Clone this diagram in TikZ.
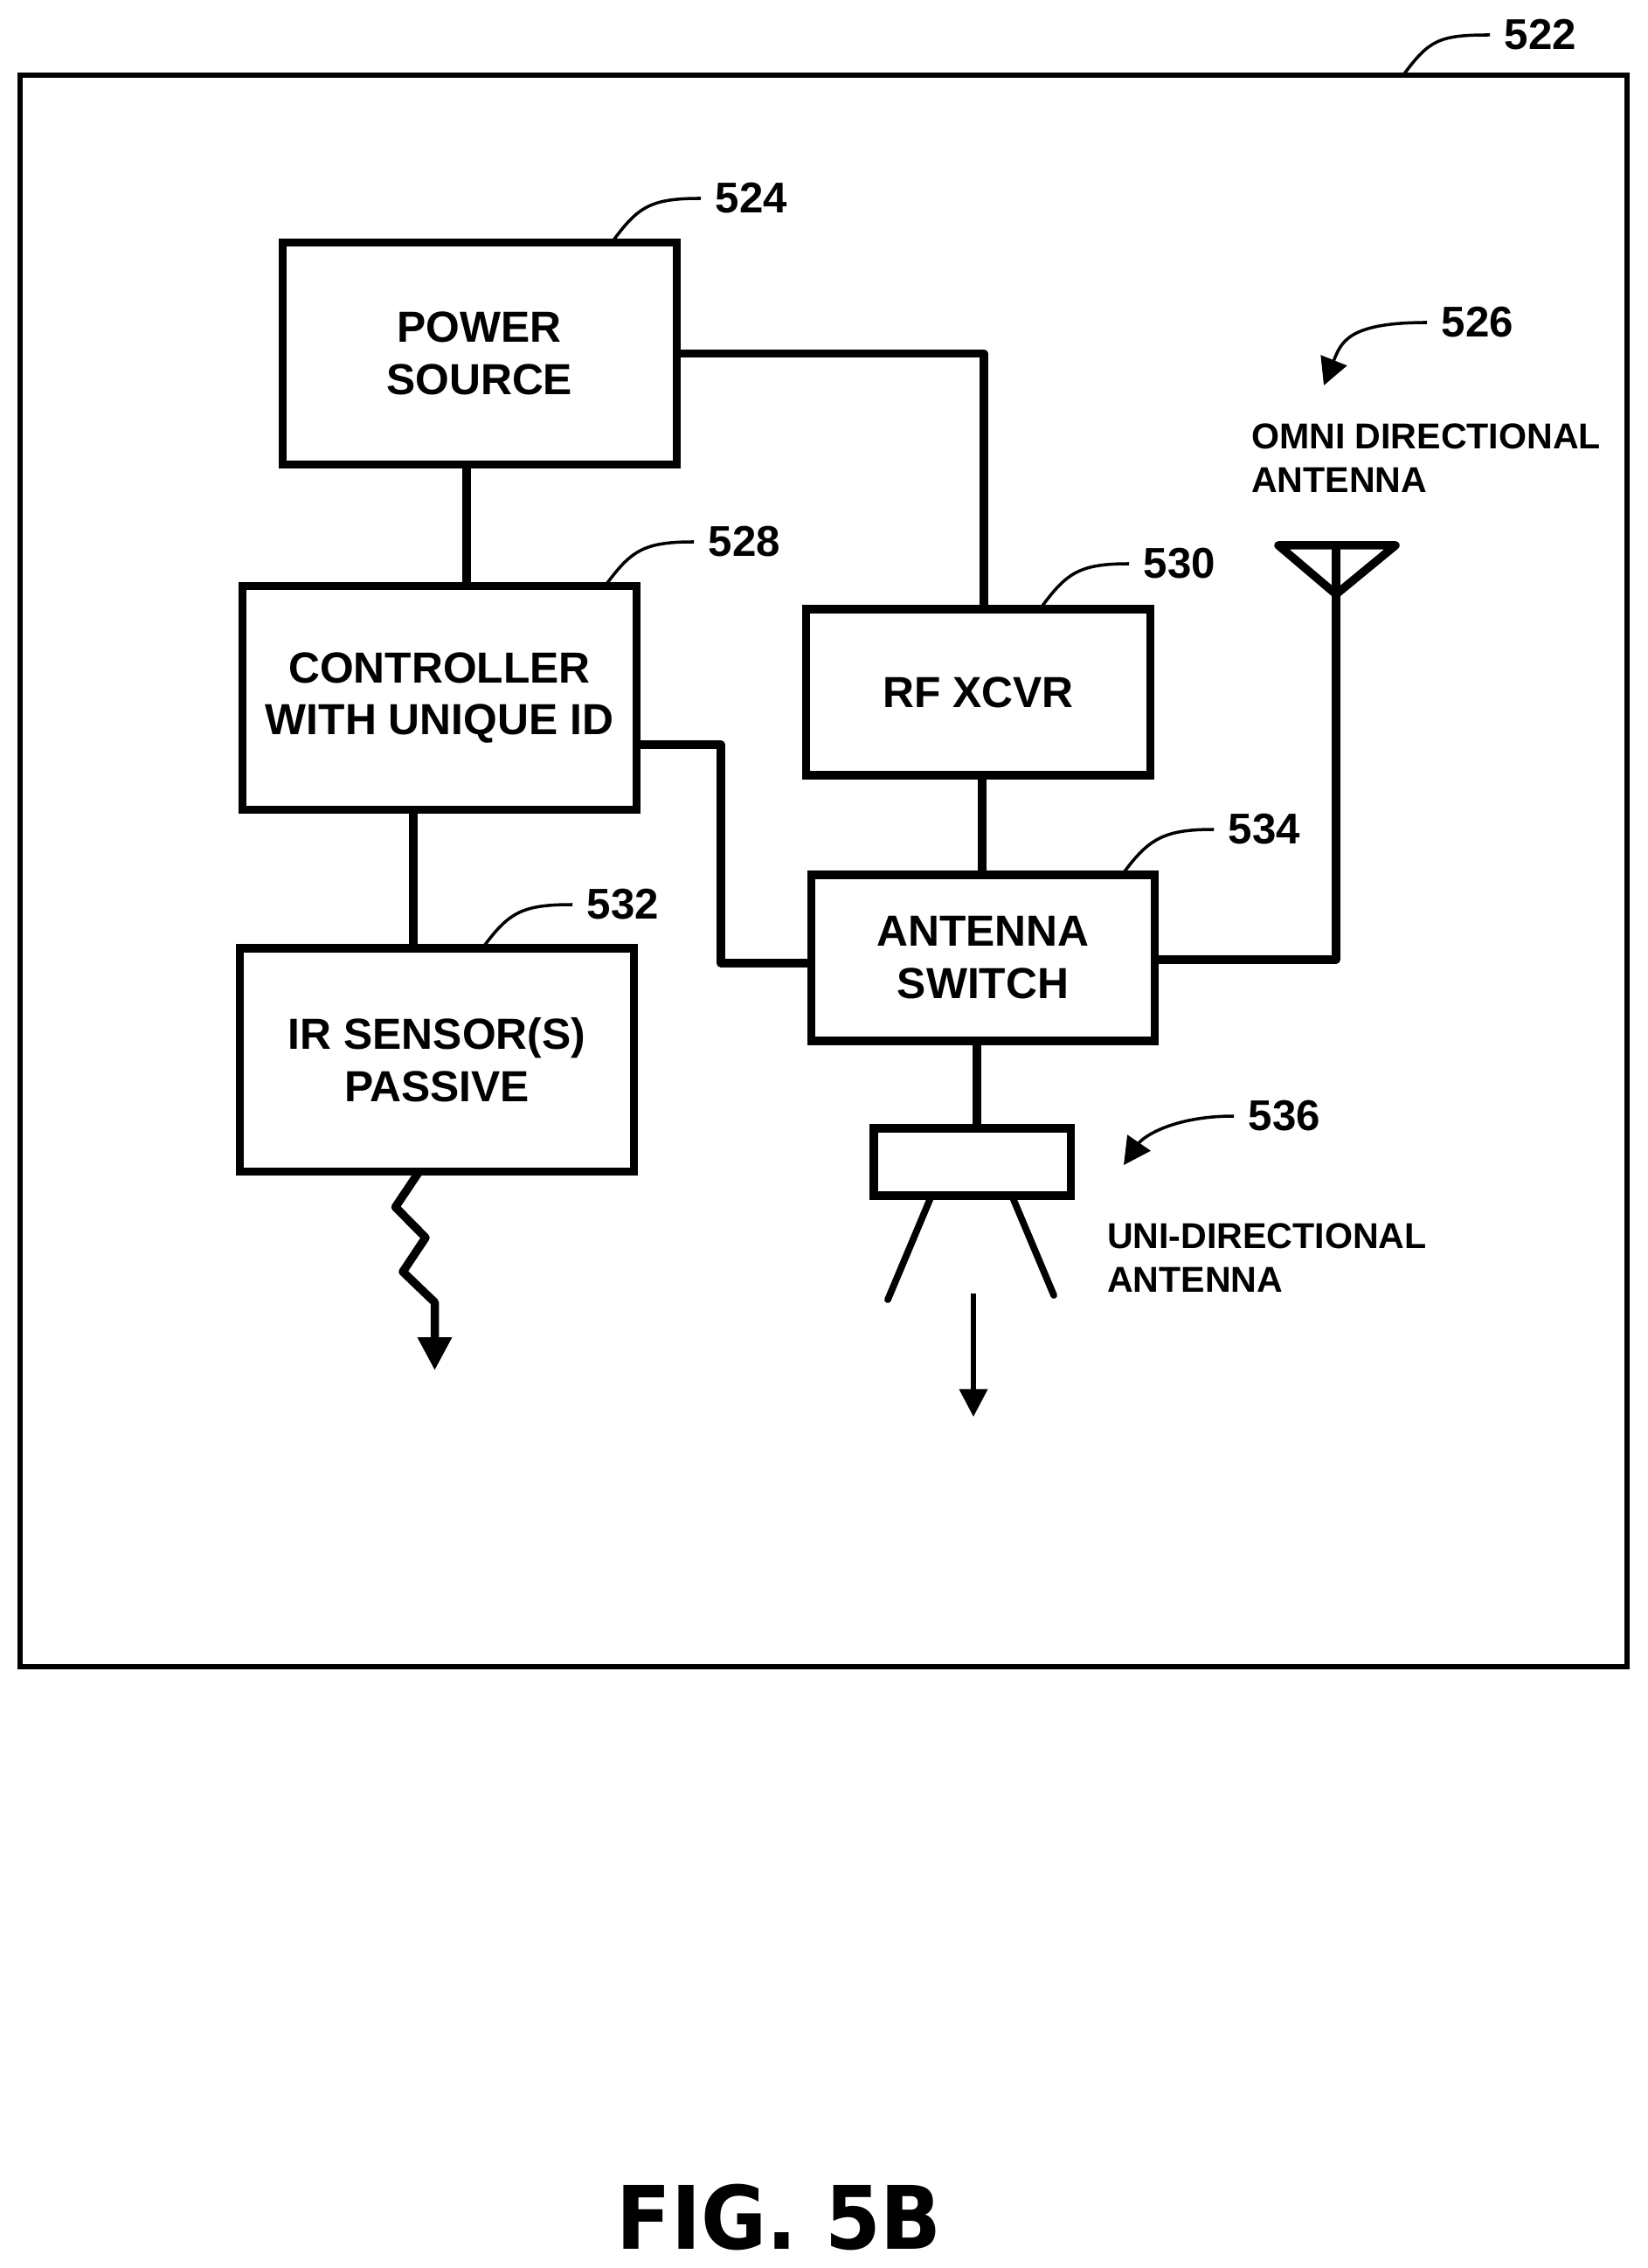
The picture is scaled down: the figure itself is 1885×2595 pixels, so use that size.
\documentclass[tikz,border=0pt]{standalone}
\usepackage{fontspec}
\setmainfont{Liberation Sans}
\newfontfamily\figfont[FakeStretch=0.914]{DejaVu Sans}
\usetikzlibrary{arrows.meta}

\tikzset{
    enclosure/.style={draw, line width=1.7pt, outer sep=0pt},
    block/.style={draw, line width=2.6pt, outer sep=0pt, align=center, font=\bfseries\fontsize{14.15}{17}\selectfont},
    wire/.style={line width=2.7pt, line join=round},
    horn/.style={line width=2.2pt, line cap=round},
    tag/.style={inner sep=4.8pt, outer sep=0pt, font=\bfseries\fontsize{14}{17}\selectfont},
    caption/.style={inner sep=0pt, outer sep=0pt, anchor=west, align=left, font=\bfseries\fontsize{11.7}{14.1}\selectfont},
    leader/.style={line width=1pt, to path={.. controls +(30,-41) and +(-58,0) .. (\tikztotarget)}},
    pointer/.style={line width=1pt, -{Triangle[width=9pt,length=8.8pt]}}
}

\begin{document}
\begin{tikzpicture}[x=0.01cm, y=-0.01cm]
    \useasboundingbox (0,0) rectangle (1885,2595);

    \node[enclosure, minimum width=18.37cm, minimum height=18.19cm] (case) at (942.5,996.5) {};
    \node[block, minimum width=4.505cm, minimum height=2.54cm] (power) at (548.75,404.5) {POWER\\SOURCE};
    \node[block, minimum width=4.50cm, minimum height=2.55cm] (ctrl) at (503,798.5) {CONTROLLER\\WITH UNIQUE ID};
    \node[block, minimum width=3.93cm, minimum height=1.90cm] (rf) at (1119.5,792) {RF XCVR};
    \node[block, minimum width=3.92cm, minimum height=1.90cm] (switch) at (1125,1096) {ANTENNA\\SWITCH};
    \node[block, minimum width=4.50cm, minimum height=2.55cm] (ir) at (500,1212.5) {IR SENSOR(S)\\PASSIVE};
    \node[block, minimum width=2.25cm, minimum height=0.77cm] (dish) at (1112.5,1329.5) {};

    \node[tag] (tag522) at (1763,40) {522};
    \node[tag] (tag524) at (860,227) {524};
    \node[tag] (tag526) at (1691,369) {526};
    \node[tag] (tag528) at (852,620) {528};
    \node[tag] (tag530) at (1350,645) {530};
    \node[tag] (tag532) at (713,1035) {532};
    \node[tag] (tag534) at (1447,949) {534};
    \node[tag] (tag536) at (1470,1277) {536};

    \node[caption] (omni) at (1432,524) {OMNI DIRECTIONAL\\ANTENNA};
    \node[caption] (uni) at (1267,1439) {UNI-DIRECTIONAL\\ANTENNA};
    \node[inner sep=0pt, font=\figfont\bfseries\fontsize{28.5}{30}\selectfont] (figlabel) at (891.5,2536.5) {FIG. 5B};

    \draw[leader] ([shift={(-256,0)}]case.north east) to (tag522.west);
    \draw[leader] ([shift={(-74,0)}]power.north east) to (tag524.west);
    \draw[leader] ([shift={(-36,0)}]ctrl.north east) to (tag528.west);
    \draw[leader] ([shift={(-126,0)}]rf.north east) to (tag530.west);
    \draw[leader] ([shift={(-173,0)}]ir.north east) to (tag532.west);
    \draw[leader] ([shift={(-37,0)}]switch.north east) to (tag534.west);

    \coordinate (tip526) at (1515,441);
    \coordinate (tip536) at (1286,1333);
    \draw[pointer] (tag526.west) .. controls +(-90,0) and +(20,-50) .. (tip526);
    \draw[pointer] (tag536.west) .. controls +(-70,0) and +(22,-32) .. (tip536);

    \draw[wire] ([shift={(-14.75,0)}]power.south) -- ([shift={(31,0)}]ctrl.north);
    \draw[wire] (power.east) -| ([shift={(6.5,0)}]rf.north);
    \draw[wire] ([shift={(-30,0)}]ctrl.south) -- ([shift={(-27,0)}]ir.north);
    \draw[wire] ([shift={(0,53.5)}]ctrl.east) -- ++(97,0) |- ([shift={(0,6)}]switch.west);
    \draw[wire] ([shift={(4.5,0)}]rf.south) -- ([shift={(-1,0)}]switch.north);
    \draw[wire] ([shift={(-7,0)}]switch.south) -- ([shift={(5.5,0)}]dish.north);

    \coordinate (mastL) at (1463,624);
    \coordinate (mastR) at (1597,624);
    \coordinate (mastP) at (1529,680);
    \coordinate (mastT) at (1529,624);
    \draw[wire] ([shift={(0,2)}]switch.east) -| (mastT);
    \draw[wire] (mastL) -- (mastR) -- (mastP) -- cycle;

    \draw[horn] ([shift={(-46.5,0)}]dish.south) -- ++(-50,119);
    \draw[horn] ([shift={(45.5,0)}]dish.south) -- ++(48,114);
    \coordinate (beam) at (1114,1480);
    \draw[line width=1.5pt, -{Triangle[width=9pt,length=9pt]}] (beam) -- ++(0,141);

    \draw[wire, -{Triangle[width=10.5pt,length=10.8pt]}] ([shift={(-20,0)}]ir.south) -- ++(-27.5,41) -- ++(34.5,35) -- ++(-26,39) -- ++(36.5,35) -- ++(0,78);
\end{tikzpicture}
\end{document}
